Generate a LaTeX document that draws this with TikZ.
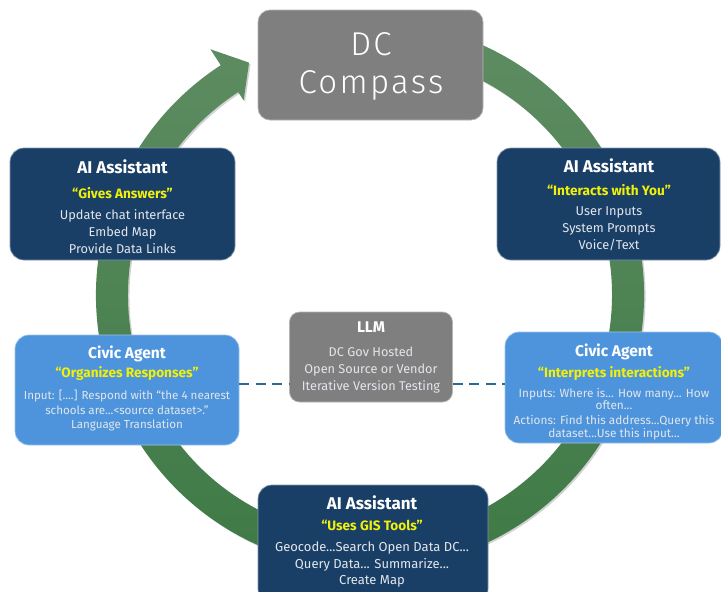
\documentclass[tikz,border=0pt]{standalone}
\usepackage{fontspec}
\setmainfont{Fira Sans}
\newfontfamily\lightfont[LetterSpace=7]{Fira Sans Light}
\usetikzlibrary{calc}
\definecolor{navy}{HTML}{1A3F66}
\definecolor{navyedge}{HTML}{8196AE}
\definecolor{civblue}{HTML}{4E94DC}
\definecolor{civedge}{HTML}{9CC3EC}
\definecolor{boxgray}{HTML}{7F7F7F}
\definecolor{grayedge}{HTML}{B5B5B5}
\definecolor{yel}{HTML}{F0F00A}
\definecolor{lighttxt}{HTML}{E2E6EC}
\definecolor{ringtop}{HTML}{5E8C62}
\definecolor{ringmid}{HTML}{417D48}
\definecolor{ringbot}{HTML}{3C7944}
\definecolor{dashcol}{HTML}{2C6A96}
\newcommand{\aittl}{\bfseries\fontsize{17}{17}\selectfont\color{white}}
\newcommand{\civttl}{\bfseries\fontsize{15.5}{17}\selectfont\color{white}}
\newcommand{\subttl}{\bfseries\fontsize{13.6}{14}\selectfont\color{yel}}
\begin{document}
\begin{tikzpicture}[x=1pt,y=-1pt,
  darkbox/.style={fill=navy, draw=navyedge, line width=0.7pt, rounded corners=14pt},
  civbox/.style={fill=civblue, draw=civedge, line width=0.7pt, rounded corners=14pt},
  graybox/.style={fill=boxgray, draw=grayedge, line width=0.7pt, rounded corners=12pt},
  txt/.style={align=center, inner sep=0pt, text=lighttxt, anchor=north},
  dashln/.style={draw=dashcol, line width=1.9pt, dash pattern=on 10pt off 6.5pt}
]
\useasboundingbox (0,0) rectangle (721,592);
\clip (0,0) rectangle (721,592);
\fill[white] (0,0) rectangle (721,592);

% ring arrow
\begin{scope}[shift={(370,295)}, y=1pt]
  \fill[black, opacity=0.18, shift={(1.5,-1.5)}]
    (75:274) arc[start angle=75, end angle=-237, radius=274] -- (123:293) -- (117.5:262) -- (123:232) -- (123:242)
    arc[start angle=-237, end angle=75, radius=242] -- cycle;
  \shade[top color=ringtop, middle color=ringmid, bottom color=ringbot]
    (75:274) arc[start angle=75, end angle=-237, radius=274] -- (123:293) -- (117.5:262) -- (123:232) -- (123:242)
    arc[start angle=-237, end angle=75, radius=242] -- cycle;
\end{scope}

% boxes
\node[graybox, minimum width=225pt, minimum height=110pt] (dc) at (370.5,65) {};
\node[font=\lightfont\fontsize{33}{38}\selectfont, text=white, align=center] (dct) at (371,66) {DC\\Compass};

\node[darkbox, minimum width=225pt, minimum height=112pt] (aiTL) at (122.5,204) {};
\node[txt, font=\fontsize{12.8}{17}\selectfont] (aiTLt) at (122.5,160) {%
  {\aittl AI Assistant}\\[8pt]
  {\subttl “Gives Answers”}\\[4pt]
  Update chat interface\\
  Embed Map\\
  Provide Data Links};

\node[darkbox, minimum width=223pt, minimum height=112pt] (aiTR) at (608.5,204) {};
\node[txt, font=\fontsize{12.8}{17}\selectfont] (aiTRt) at (609,159) {%
  {\aittl AI Assistant}\\[6pt]
  {\subttl “Interacts with You”}\\[3pt]
  User Inputs\\
  System Prompts\\
  Voice/Text};

\node[civbox, minimum width=224pt, minimum height=110pt] (civL) at (127,390) {};
\node[txt, font=\fontsize{11.6}{14}\selectfont] (civLt) at (127,345.5) {%
  {\civttl Civic Agent}\\[4pt]
  {\subttl “Organizes Responses”}\\[8pt]
  Input: [....] Respond with “the 4 nearest\\[1pt]
  schools are...<source dataset>.”\\[-0.7pt]
  Language Translation};

\node[civbox, minimum width=218pt, minimum height=111pt] (civR) at (614,387.5) {};
\node[txt, font=\fontsize{11.8}{12.5}\selectfont] (civRt) at (614,343.5) {%
  {\civttl Civic Agent}\\[6pt]
  {\subttl “Interprets interactions”}\\[7pt]
  Inputs: Where is... How many... How\\
  often...\\[2.5pt]
  Actions: Find this address...Query this\\
  dataset...Use this input...};

\node[darkbox, minimum width=230pt, minimum height=118pt] (aiB) at (373,544) {};
\node[txt, font=\fontsize{13}{17}\selectfont] (aiBt) at (372,496) {%
  {\aittl AI Assistant}\\[4pt]
  {\subttl “Uses GIS Tools”}\\[4pt]
  Geocode...Search Open Data DC...\\
  Query Data... Summarize...\\[-1pt]
  Create Map};

\node[graybox, rounded corners=10pt, minimum width=163pt, minimum height=90pt] (llm) at (371,357) {};
\node[txt, font=\fontsize{12.7}{16.7}\selectfont] (llmt) at (371,322) {%
  {\civttl LLM}\\[7pt]
  DC Gov Hosted\\
  Open Source or Vendor\\
  Iterative Version Testing};

% dashed connectors
\coordinate (dashy) at (0,384);
\draw[dashln] (civL.east |- dashy) -- (llm.west |- dashy);
\draw[dashln] (llm.east |- dashy) -- (civR.west |- dashy);
\end{tikzpicture}
\end{document}
